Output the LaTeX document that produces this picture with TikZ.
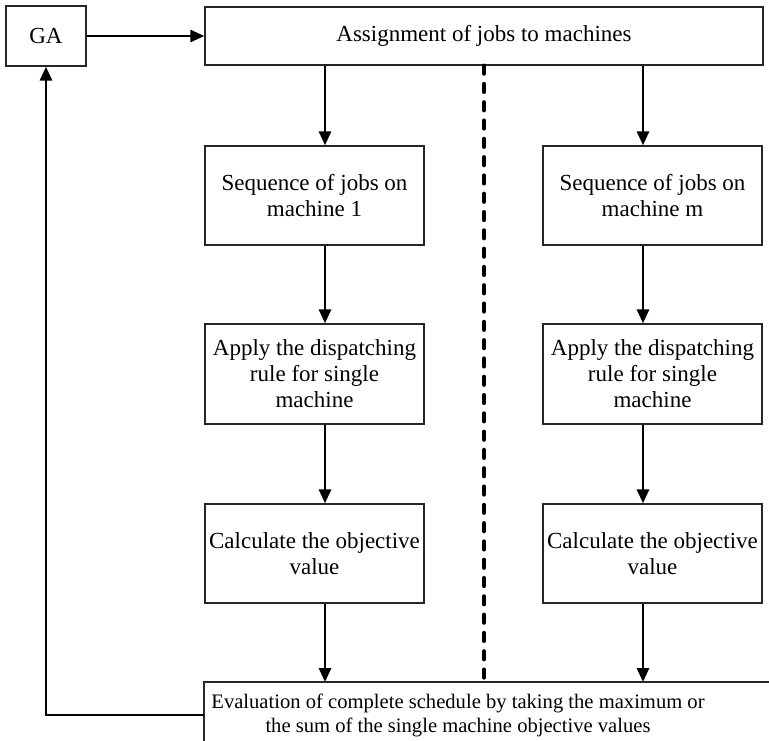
\documentclass[tikz,border=0pt]{standalone}
\usepackage{fontspec}
\setmainfont{Liberation Serif}
\usetikzlibrary{arrows.meta}
\begin{document}
\begin{tikzpicture}[x=1pt,y=-1pt,
  every node/.style={font=\fontsize{23}{26}\selectfont},
  stepbox/.style={draw=black!85, line width=1.3pt, align=center, inner sep=0pt},
  frame/.style={draw=black!85, line width=1.3pt},
  conn/.style={line width=2.8pt, -{Triangle[length=14pt,width=12pt]}},
  divider/.style={line width=4.2pt, line cap=round, dash pattern=on 8pt off 10.3pt}]
\useasboundingbox (0,0) rectangle (769,740);
\clip (0,0) rectangle (769,740);

% top row
\node[stepbox, minimum width=80, minimum height=60] (ga) at (46,36) {GA};
\node[stepbox, minimum width=558, minimum height=58] (assign) at (484,36) {Assignment of jobs to machines};

% machine 1 column
\node[stepbox, minimum width=219, minimum height=99] (seq1) at (314.5,195.5) {Sequence of jobs on\\machine 1};
\node[stepbox, minimum width=219, minimum height=100] (apply1) at (314.5,374) {Apply the dispatching\\rule for single\\machine};
\node[stepbox, minimum width=219, minimum height=99] (calc1) at (314.5,553.5) {Calculate the objective\\value};

% machine m column
\node[stepbox, minimum width=219, minimum height=99] (seqm) at (652.5,195.5) {Sequence of jobs on\\machine m};
\node[stepbox, minimum width=219, minimum height=100] (applym) at (652.5,374) {Apply the dispatching\\rule for single\\machine};
\node[stepbox, minimum width=219, minimum height=99] (calcm) at (652.5,553.5) {Calculate the objective\\value};

% evaluation box (runs past the right and bottom edges)
\node[align=center, inner sep=0pt, font=\fontsize{20.6}{24}\selectfont] (eval) at (458,715.5)
  {Evaluation of complete schedule by taking the maximum or\\the sum of the single machine objective values};
\coordinate (evaledge) at (204,715);
\coordinate (evaltop) at (0,682);
\coordinate (far) at (800,760);
\draw[frame] (evaledge |- far) -- (evaledge |- evaltop) -- (far |- evaltop);

% connectors: one vertical lane per column
\coordinate (lc) at (325,0);
\coordinate (rc) at (643,0);
\draw[conn] (ga) -- (assign);
\draw[conn] (assign.south -| lc) -- (seq1.north -| lc);
\draw[conn] (seq1.south -| lc) -- (apply1.north -| lc);
\draw[conn] (apply1.south -| lc) -- (calc1.north -| lc);
\draw[conn] (calc1.south -| lc) -- (lc |- evaltop);
\draw[conn] (assign.south -| rc) -- (seqm.north -| rc);
\draw[conn] (seqm.south -| rc) -- (applym.north -| rc);
\draw[conn] (applym.south -| rc) -- (calcm.north -| rc);
\draw[conn] (calcm.south -| rc) -- (rc |- evaltop);
\draw[conn] (evaledge) -| (ga.south);

% separator between the machine columns
\draw[divider] (assign.south) -- (assign.south |- evaltop);
\end{tikzpicture}
\end{document}
